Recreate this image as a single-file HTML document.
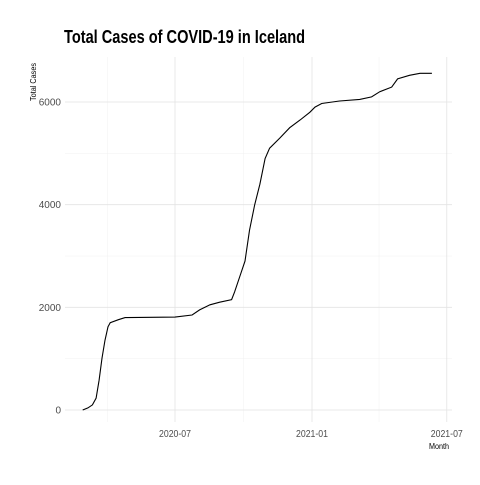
<!DOCTYPE html>
<html><head><meta charset="utf-8"><style>
body{margin:0;background:#fff;}
svg text{font-family:"Liberation Sans Narrow","Liberation Sans",sans-serif;}
</style></head><body>
<svg id="chart" width="480" height="480" xmlns="http://www.w3.org/2000/svg">
<rect width="480" height="480" fill="#fff"/>
<g id="grid"></g>
<g id="axes"></g>
<path id="line" fill="none" stroke="#000" stroke-width="1.1"/>
<text x="64" y="43" font-size="18" font-weight="bold" fill="#000" textLength="241" lengthAdjust="spacingAndGlyphs">Total Cases of COVID-19 in Iceland</text>
<text transform="translate(36,82) rotate(-90)" text-anchor="middle" font-size="8" fill="#000" textLength="38" lengthAdjust="spacingAndGlyphs">Total Cases</text>
<text x="449" y="449" text-anchor="end" font-size="8" fill="#000" textLength="20" lengthAdjust="spacingAndGlyphs">Month</text>
</svg>
<script>
const dates=["2020-02-28","2020-03-06","2020-03-12","2020-03-17","2020-03-21","2020-03-25","2020-03-29","2020-04-02","2020-04-05","2020-04-16","2020-04-25","2020-07-01","2020-07-24","2020-08-03","2020-08-17","2020-08-30","2020-09-15","2020-09-19","2020-09-26","2020-10-03","2020-10-09","2020-10-16","2020-10-23","2020-10-30","2020-11-05","2020-11-19","2020-12-02","2020-12-16","2020-12-29","2021-01-05","2021-01-14","2021-02-07","2021-03-06","2021-03-22","2021-04-02","2021-04-18","2021-04-26","2021-05-12","2021-05-26","2021-06-11"];
const cases=[0,40,100,230,580,1010,1360,1620,1700,1760,1800,1810,1850,1950,2050,2100,2150,2300,2600,2900,3500,4000,4400,4900,5100,5300,5500,5650,5800,5900,5970,6020,6050,6100,6200,6290,6450,6520,6560,6560];
const yTicks=[0,2000,4000,6000];
const yMinor=[1000,3000,5000];
const xTicks=["2020-07-01","2021-01-01","2021-07-01"];
const xTickLabels=["2020-07","2021-01","2021-07"];
const xMinor=["2020-04-01","2020-10-01","2021-04-01"];
const NS="http://www.w3.org/2000/svg";
const day=s=>Date.parse(s+"T00:00:00Z")/86400000;
const d0=day("2020-07-01"),d1=day("2021-01-01");
const X=s=>175+(day(s)-d0)*(312-175)/(d1-d0);
const Y=v=>410-v*(410-102)/6000;
const L=65,R=452,T=57,B=422;
const grid=document.getElementById('grid'),axes=document.getElementById('axes');
function ln(x1,y1,x2,y2,c,w){const e=document.createElementNS(NS,'line');e.setAttribute('x1',x1);e.setAttribute('y1',y1);e.setAttribute('x2',x2);e.setAttribute('y2',y2);e.setAttribute('stroke',c);e.setAttribute('stroke-width',w);grid.appendChild(e);return e;}
yMinor.forEach(v=>{const e=ln(L,Y(v),R,Y(v),'#f0f0f0',0.5);

});
xMinor.forEach(s=>{const e=ln(X(s),T,X(s),B,'#f0f0f0',0.5);

});
yTicks.forEach(v=>{const e=ln(L,Y(v),R,Y(v),'#e3e3e3',0.8);


const t=document.createElementNS(NS,'text');t.setAttribute('x',61);t.setAttribute('y',Y(v)+3.5);t.setAttribute('text-anchor','end');t.setAttribute('font-size','10');t.setAttribute('fill','#4d4d4d');t.textContent=v;


axes.appendChild(t);});
xTicks.forEach((s,i)=>{const e=ln(X(s),T,X(s),B,'#e3e3e3',0.8);


const t=document.createElementNS(NS,'text');t.setAttribute('x',X(s));t.setAttribute('y',437);t.setAttribute('text-anchor','middle');t.setAttribute('font-size','10');t.setAttribute('fill','#4d4d4d');t.setAttribute('textLength','32');t.setAttribute('lengthAdjust','spacingAndGlyphs');t.textContent=xTickLabels[i];


axes.appendChild(t);});
document.getElementById('line').setAttribute('d',dates.map((s,i)=>(i?'L':'M')+X(s).toFixed(1)+','+Y(cases[i]).toFixed(1)).join(''));
</script>
</body></html>
